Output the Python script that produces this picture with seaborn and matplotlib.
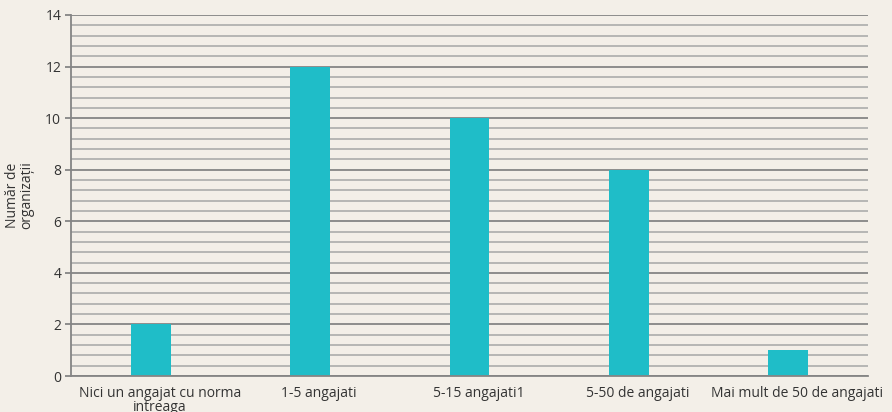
import matplotlib
matplotlib.use("Agg")
import matplotlib.pyplot as plt
import matplotlib.transforms as mtransforms
import seaborn as sns
import pandas as pd
from matplotlib.ticker import MultipleLocator

categories = ["Nici un angajat cu norma\nintreaga", "1-5 angajati", "5-15 angajati1",
              "5-50 de angajati", "Mai mult de 50 de angajati"]
counts = [2, 12, 10, 8, 1]
y_label = "Număr de\norganizații"

sns.set_theme(style="white")
plt.rcParams["font.family"] = ["Open Sans", "DejaVu Sans"]

bg = "#f3efe8"
text_col = "#333333"

fig = plt.figure(figsize=(8.92, 4.12), dpi=100, facecolor=bg)
ax = fig.add_axes([71 / 892, 36 / 412, (868 - 71) / 892, (376 - 15) / 412])
ax.set_facecolor(bg)

df = pd.DataFrame({"cat": categories, "n": counts})
sns.barplot(data=df, x="cat", y="n", color="#1fbdc8", saturation=1, width=0.25,
            linewidth=0, edgecolor="none", ax=ax, zorder=3)

ax.set_ylim(0, 14)
ax.set_xlim(-0.5, len(categories) - 0.5)
ax.yaxis.set_major_locator(MultipleLocator(2))
ax.yaxis.set_minor_locator(MultipleLocator(0.4))
ax.grid(which="major", axis="y", color="#858585", lw=1.3, zorder=1)
ax.grid(which="minor", axis="y", color="#a6a6a6", lw=1.1, zorder=1)
ax.grid(axis="x", visible=False)

for s in ["top", "right"]:
    ax.spines[s].set_visible(False)
for s in ["left", "bottom"]:
    ax.spines[s].set_color("#858585")
    ax.spines[s].set_linewidth(1.3)
    ax.spines[s].set_zorder(4)

ax.tick_params(axis="y", which="major", left=True, length=4, width=1.3, color="#858585",
               labelsize=10, labelcolor=text_col, pad=3)
ax.tick_params(axis="y", which="minor", left=False)
ax.tick_params(axis="x", bottom=False, labelsize=10, labelcolor=text_col, pad=2)

# category labels sit slightly right of their bars
shift = mtransforms.ScaledTranslation(9 / 100, 1 / 100, fig.dpi_scale_trans)
for lbl in ax.get_xticklabels():
    lbl.set_linespacing(0.88)
    lbl.set_transform(lbl.get_transform() + shift)

ax.set_xlabel("")
ax.set_ylabel(y_label, fontsize=10, color=text_col, linespacing=0.95, labelpad=8)

fig.savefig("out.png", dpi=100, facecolor=bg)
